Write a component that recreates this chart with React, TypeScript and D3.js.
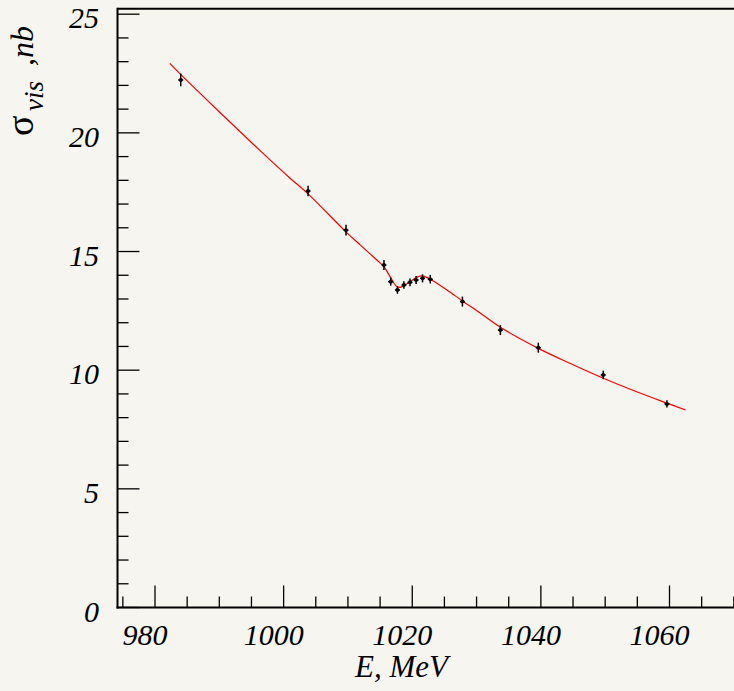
import * as d3 from "d3";

// measured points (E in MeV, visible cross section in nb)
const pointE = [984.0, 1003.8, 1009.7, 1015.6, 1016.65, 1017.7, 1018.7, 1019.65, 1020.6, 1021.6, 1022.8, 1027.8, 1033.7, 1039.6, 1049.7, 1059.6];
const pointSigma = [22.23, 17.55, 15.9, 14.43, 13.73, 13.38, 13.59, 13.7, 13.8, 13.87, 13.83, 12.89, 11.69, 10.95, 9.8, 8.58];
const pointErr = [0.27, 0.22, 0.23, 0.21, 0.17, 0.16, 0.16, 0.16, 0.17, 0.17, 0.18, 0.21, 0.21, 0.21, 0.18, 0.15];

// fitted curve
const fitE = [982.3, 984.1, 990.1, 996.3, 1001.0, 1003.8, 1009.65, 1011.9, 1014.5, 1015.6, 1016.55, 1017.5, 1018.1, 1018.6, 1019.65, 1020.7, 1021.5, 1022.25, 1023.0, 1025.4, 1027.8, 1030.5, 1033.7, 1039.6, 1044.5, 1049.7, 1054.9, 1059.6, 1062.5];
const fitSigma = [22.93, 22.43, 20.86, 19.26, 18.09, 17.43, 15.84, 15.28, 14.64, 14.36, 13.94, 13.55, 13.49, 13.55, 13.73, 13.91, 13.97, 13.91, 13.8, 13.38, 12.92, 12.42, 11.81, 10.92, 10.29, 9.66, 9.09, 8.61, 8.32];

const xMajor = [980, 1000, 1020, 1040, 1060];
const xMinor = [975, 985, 990, 995, 1005, 1010, 1015, 1025, 1030, 1035, 1045, 1050, 1055, 1065, 1070];
const yMajor = [0, 5, 10, 15, 20, 25];
const yMinor = [1, 2, 3, 4, 6, 7, 8, 9, 11, 12, 13, 14, 16, 17, 18, 19, 21, 22, 23, 24];

const W = 734;
const H = 691;
const font = "'Liberation Serif', 'Times New Roman', serif";

export default function App() {
  const x = d3.scaleLinear().domain([980, 1060]).range([155, 669.5]);
  const y = d3.scaleLinear().domain([0, 25]).range([607.5, 14.2]);
  const left = 117.5;
  const bottom = 607.5;
  const top = 8.7;

  const fitLine = d3
    .line<number>()
    .x((_, i) => x(fitE[i]))
    .y((d) => y(d))
    .curve(d3.curveCatmullRom.alpha(0.5));

  return (
    <>
      <style>{"body{margin:0;background:#f6f5ef}"}</style>
      <svg width={W} height={H} style={{ display: "block", background: "#f6f5ef" }}>
        {/* frame */}
        <line x1={left} x2={W} y1={top} y2={top} stroke="#000" strokeWidth={2} />
        <line x1={left} x2={left} y1={top - 1} y2={bottom + 1} stroke="#000" strokeWidth={2} />
        <line x1={left - 1} x2={W} y1={bottom} y2={bottom} stroke="#000" strokeWidth={2} />

        {/* x ticks */}
        {xMajor.map((v) => (
          <line key={"xM" + v} x1={x(v)} x2={x(v)} y1={bottom} y2={bottom - 22} stroke="#000" strokeWidth={1.3} />
        ))}
        {xMinor.map((v) => (
          <line key={"xm" + v} x1={x(v)} x2={x(v)} y1={bottom} y2={bottom - 11} stroke="#000" strokeWidth={1.3} />
        ))}
        {xMajor.map((v) => (
          <text key={"xl" + v} x={x(v) - 10} y={645} textAnchor="middle" fontFamily={font} fontStyle="italic" fontSize={30}>
            {v}
          </text>
        ))}

        {/* y ticks */}
        {yMajor.map((v) => (
          <line key={"yM" + v} x1={left} x2={left + 22} y1={y(v)} y2={y(v)} stroke="#000" strokeWidth={1.3} />
        ))}
        {yMinor.map((v) => (
          <line key={"ym" + v} x1={left} x2={left + 11} y1={y(v)} y2={y(v)} stroke="#000" strokeWidth={1.3} />
        ))}
        {yMajor.map((v) => (
          <text key={"yl" + v} x={99} y={y(v) + 14} textAnchor="end" fontFamily={font} fontStyle="italic" fontSize={30}>
            {v}
          </text>
        ))}

        {/* axis titles */}
        <text x={355} y={677} fontFamily={font} fontStyle="italic" fontSize={31}>
          E, MeV
        </text>
        <g transform="rotate(-90)">
          <text x={-136} y={33} fontFamily={font} fontSize={38}>
            σ
          </text>
          <text x={-111} y={43} fontFamily={font} fontStyle="italic" fontSize={27}>
            vis
          </text>
          <text x={-66} y={33} fontFamily={font} fontStyle="italic" fontSize={32}>
            ,nb
          </text>
        </g>

        {/* fit */}
        <path d={fitLine(fitSigma) ?? ""} fill="none" stroke="#ff0000" strokeWidth={1.2} />

        {/* data points */}
        {pointE.map((e, i) => (
          <g key={"p" + i}>
            <line x1={x(e)} x2={x(e)} y1={y(pointSigma[i] - pointErr[i])} y2={y(pointSigma[i] + pointErr[i])} stroke="#000" strokeWidth={1.5} />
            <line x1={x(e) - 2.5} x2={x(e) + 2.5} y1={y(pointSigma[i])} y2={y(pointSigma[i])} stroke="#000" strokeWidth={1.5} />
            <circle cx={x(e)} cy={y(pointSigma[i])} r={2} fill="#000" />
          </g>
        ))}
      </svg>
    </>
  );
}
